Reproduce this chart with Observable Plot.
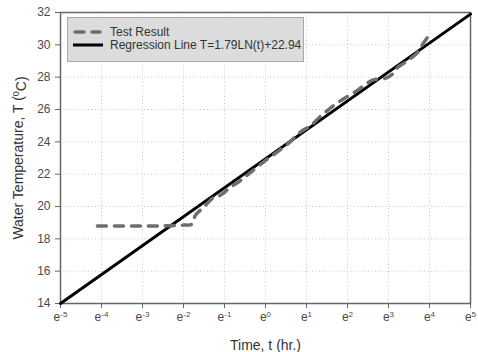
<!DOCTYPE html>
<html>
<head>
<meta charset="utf-8">
<script src="https://cdn.jsdelivr.net/npm/d3@7"></script>
<script src="https://cdn.jsdelivr.net/npm/@observablehq/plot@0.6"></script>
<style>
  html, body { margin: 0; padding: 0; background: #fff; }
  #wrap { position: relative; width: 478px; height: 352px; font-family: "Liberation Sans", Arial, sans-serif; }
  #legend { position: absolute; left: 67px; top: 17px; }
</style>
</head>
<body>
<div id="wrap"></div>
<script>
// Test result: natural log of time (hr.) and water temperature (°C)
const testLnTime = [-4.1, -3.5, -3.0, -2.5, -2.0, -1.8, -1.71, -1.51, -1.27, -1.1, -0.85, -0.61, -0.37, -0.05, 0.3, 0.6, 0.85, 1.1, 1.35, 1.75, 2.25, 2.6, 2.95, 3.1, 3.22, 3.4, 3.7, 3.85, 4.05];
const testTemp   = [18.8, 18.8, 18.8, 18.8, 18.85, 18.9, 19.45, 19.95, 20.55, 20.7, 21.2, 21.6, 22.1, 22.75, 23.4, 24.0, 24.6, 25.0, 25.6, 26.4, 27.2, 27.8, 27.95, 28.2, 28.6, 28.9, 29.5, 30.1, 30.8];
// Regression line T = 1.79 LN(t) + 22.94, endpoints
const regLnTime = [-5, 5];
const regTemp   = [14.0, 31.9];
// Tick labels
const xTickExp = [-5, -4, -3, -2, -1, 0, 1, 2, 3, 4, 5];
const yTicks = [14, 16, 18, 20, 22, 24, 26, 28, 30, 32];
const seriesNames = ["Test Result", "Regression Line T=1.79LN(t)+22.94"];

const testData = testLnTime.map((l, i) => ({t: Math.exp(l), T: testTemp[i]}));
const regData = regLnTime.map((l, i) => ({t: Math.exp(l), T: regTemp[i]}));
const xTicks = xTickExp.map(e => Math.exp(e));

const plot = Plot.plot({
  width: 478,
  height: 352,
  marginLeft: 60,
  marginRight: 8,
  marginTop: 12,
  marginBottom: 49,
  style: {fontFamily: "'Liberation Sans', Arial, sans-serif", fontSize: "12px", color: "#4a4a4a", background: "white"},
  x: {type: "log", base: Math.E, domain: [Math.exp(-5), Math.exp(5)]},
  y: {domain: [14, 32]},
  marks: [
    Plot.gridX(xTicks, {stroke: "#c8c8c8", strokeOpacity: 1, strokeDasharray: "1,2.5"}),
    Plot.gridY(yTicks, {stroke: "#c8c8c8", strokeOpacity: 1, strokeDasharray: "1,2.5"}),
    Plot.axisX(xTicks, {
      tickSize: 5, tickPadding: 4,
      tickFormat: d => "e" + Math.round(Math.log(d)),
      label: "Time, t (hr.)", labelAnchor: "center", labelArrow: "none", labelOffset: 46,
      stroke: "#666"
    }),
    Plot.axisY(yTicks, {
      tickSize: 5, tickPadding: 5,
      label: "Water Temperature, T (0C)", labelAnchor: "center", labelArrow: "none", labelOffset: 47,
      stroke: "#666"
    }),
    Plot.frame({stroke: "#666", strokeWidth: 1.5}),
    Plot.line(regData, {x: "t", y: "T", stroke: "black", strokeWidth: 3}),
    Plot.line(testData, {x: "t", y: "T", stroke: "#6e6e6e", strokeWidth: 3.5, strokeDasharray: "9,8", strokeLinecap: "round", curve: "catmull-rom"})
  ]
});

document.getElementById("wrap").appendChild(plot);

// Superscript exponents on x tick labels
d3.select(plot).selectAll('g[aria-label="x-axis tick label"] text').each(function() {
  const s = this.textContent;
  const exp = s.slice(1);
  const t = d3.select(this);
  t.text(null);
  t.append("tspan").text("e");
  t.append("tspan").attr("dy", "-0.55em").attr("font-size", "8px").text(exp);
});

// Axis titles: darker and larger, superscript degree zero
d3.select(plot).selectAll('g[aria-label="x-axis label"] text, g[aria-label="y-axis label"] text')
  .attr("font-size", "14px").attr("fill", "#333");
d3.select(plot).selectAll('g[aria-label="y-axis label"] text').each(function() {
  const t = d3.select(this);
  t.text(null);
  t.append("tspan").text("Water Temperature, T (");
  t.append("tspan").attr("dy", "-0.5em").attr("font-size", "9px").text("0");
  t.append("tspan").attr("dy", "0.5em").text("C)");
});

// Legend
const lg = d3.select("#wrap").append("svg").attr("id", "legend")
  .attr("width", 237).attr("height", 45);
lg.append("rect").attr("x", 0.5).attr("y", 0.5).attr("width", 236).attr("height", 44)
  .attr("fill", "#dcdcdc").attr("stroke", "#a8a8a8");
const rows = [
  {y: 15, stroke: "#6e6e6e", w: 3.5, dash: "9,8", cap: "round", x1: 8, x2: 33},
  {y: 28, stroke: "black", w: 3, dash: null, cap: "butt", x1: 6, x2: 36}
];
rows.forEach((r, i) => {
  lg.append("line").attr("x1", r.x1).attr("x2", r.x2).attr("y1", r.y).attr("y2", r.y)
    .attr("stroke", r.stroke).attr("stroke-width", r.w)
    .attr("stroke-dasharray", r.dash).attr("stroke-linecap", r.cap);
  lg.append("text").attr("x", 43).attr("y", r.y).attr("dy", "0.35em")
    .attr("font-size", "12px").attr("fill", "#333")
    .attr("font-family", "'Liberation Sans', Arial, sans-serif")
    .text(seriesNames[i]);
});
</script>
</body>
</html>
